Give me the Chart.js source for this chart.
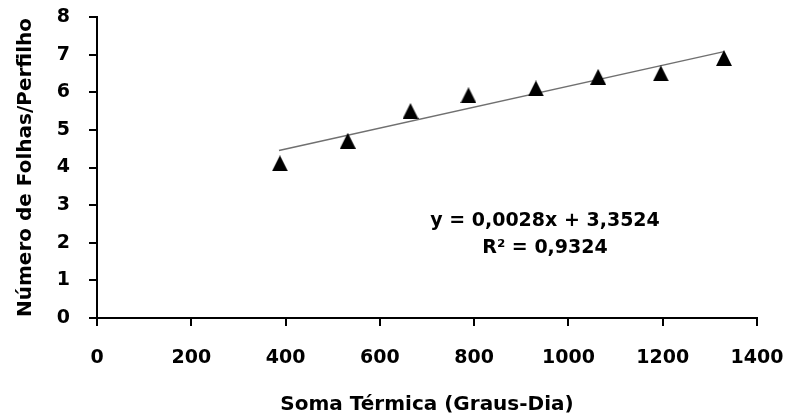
<!DOCTYPE html>
<html>
<head>
<meta charset="utf-8">
<script src="https://cdn.jsdelivr.net/npm/chart.js@4.4.1/dist/chart.umd.min.js"></script>
<style>
  html, body { margin: 0; padding: 0; background: #ffffff; }
  #wrap { width: 786px; height: 417px; position: relative; }
</style>
</head>
<body>
<div id="wrap"><canvas id="c"></canvas></div>
<script>
// ---- data ----
const somaTermica = [388, 532, 665, 788, 931, 1063, 1196, 1330];
const folhasPerfilho = [4.11, 4.71, 5.50, 5.92, 6.10, 6.41, 6.50, 6.91];
const trendX = [386, 1330];
const trendY = [4.45, 7.08];
const xTicks = [0, 200, 400, 600, 800, 1000, 1200, 1400];
const yTicks = [0, 1, 2, 3, 4, 5, 6, 7, 8];
const equationLines = ['y = 0,0028x + 3,3524', 'R\u00B2 = 0,9324'];
const xTitle = 'Soma Térmica (Graus-Dia)';
const yTitle = 'Número de Folhas/Perfilho';

const FONT = '"DejaVu Sans", "Open Sans", sans-serif';

// triangle marker
function makeTriangle(w, h) {
  const cv = document.createElement('canvas');
  cv.width = w; cv.height = h;
  const g = cv.getContext('2d');
  g.fillStyle = '#000';
  g.beginPath();
  g.moveTo(w / 2, 0);
  g.lineTo(w, h);
  g.lineTo(0, h);
  g.closePath();
  g.fill();
  return cv;
}
const tri = makeTriangle(16, 16);

const scatterData = somaTermica.map((x, i) => ({ x: x, y: folhasPerfilho[i] }));
const trendData = trendX.map((x, i) => ({ x: x, y: trendY[i] }));

const equationPlugin = {
  id: 'equation',
  afterDatasetsDraw(chart) {
    const ctx = chart.ctx;
    ctx.save();
    ctx.fillStyle = '#000';
    ctx.font = 'bold 19px ' + FONT;
    ctx.textAlign = 'center';
    ctx.textBaseline = 'middle';
    ctx.fillText(equationLines[0], 545, 221);
    ctx.fillText(equationLines[1], 545, 248);
    ctx.restore();
  }
};

function noPad(scale) {
  scale.paddingLeft = 0; scale.paddingRight = 0;
  scale.paddingTop = 0; scale.paddingBottom = 0;
}

new Chart(document.getElementById('c'), {
  type: 'scatter',
  data: {
    datasets: [
      {
        type: 'line',
        data: trendData,
        borderColor: '#707070',
        borderWidth: 1.5,
        pointRadius: 0,
        fill: false,
        order: 2
      },
      {
        data: scatterData,
        pointStyle: tri,
        pointRadius: 8,
        pointHoverRadius: 8,
        backgroundColor: '#000',
        borderColor: '#000',
        order: 1
      }
    ]
  },
  options: {
    responsive: true,
    maintainAspectRatio: false,
    animation: false,
    events: [],
    layout: { padding: { top: 17, right: 29, left: 0, bottom: 0 } },
    plugins: {
      legend: { display: false },
      tooltip: { enabled: false }
    },
    scales: {
      x: {
        type: 'linear',
        min: 0, max: 1400,
        afterBuildTicks(scale) { scale.ticks = xTicks.map(v => ({ value: v })); },
        afterFit(scale) { scale.height = 99; noPad(scale); },
        border: { display: true, color: '#000', width: 2 },
        grid: { display: true, drawOnChartArea: false, drawTicks: true, tickLength: 8, color: '#000', lineWidth: 2 },
        ticks: { color: '#000', font: { family: FONT, size: 19, weight: 'bold' }, padding: 21, maxRotation: 0,
                 callback: (v) => String(v) },
        title: { display: true, text: xTitle, color: '#000', font: { family: FONT, size: 20, weight: 'bold' }, padding: { top: 12, bottom: 0 } }
      },
      y: {
        type: 'linear',
        min: 0, max: 8,
        afterBuildTicks(scale) { scale.ticks = yTicks.map(v => ({ value: v })); },
        afterFit(scale) { scale.width = 97; noPad(scale); },
        border: { display: true, color: '#000', width: 2 },
        grid: { display: true, drawOnChartArea: false, drawTicks: true, tickLength: 8, color: '#000', lineWidth: 2 },
        ticks: { color: '#000', font: { family: FONT, size: 19, weight: 'bold' }, padding: 19,
                 callback: (v) => String(v) },
        title: { display: true, text: yTitle, color: '#000', font: { family: FONT, size: 20, weight: 'bold' }, padding: { top: 14, bottom: 0 } }
      }
    }
  },
  plugins: [equationPlugin]
});
</script>
</body>
</html>
